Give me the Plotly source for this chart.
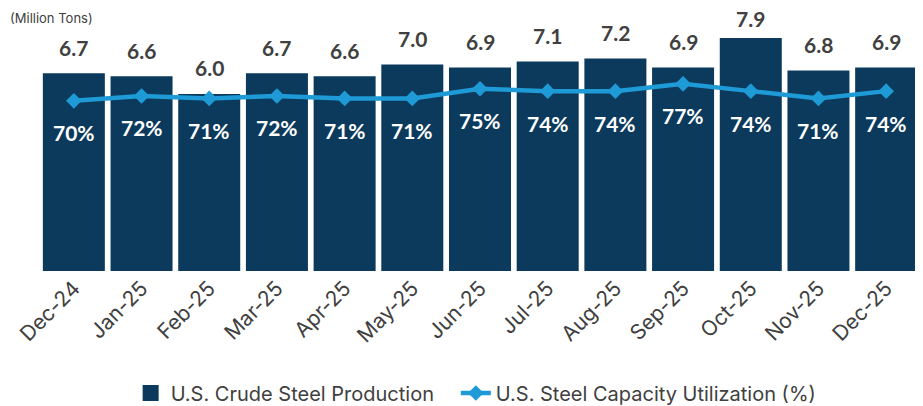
import plotly.graph_objects as go

months = ["Dec-24", "Jan-25", "Feb-25", "Mar-25", "Apr-25", "May-25", "Jun-25",
          "Jul-25", "Aug-25", "Sep-25", "Oct-25", "Nov-25", "Dec-25"]
production = [6.7, 6.6, 6.0, 6.7, 6.6, 7.0, 6.9, 7.1, 7.2, 6.9, 7.9, 6.8, 6.9]
utilization = [70, 72, 71, 72, 71, 71, 75, 74, 74, 77, 74, 71, 74]

BAR = "#0B3A5C"
LINE = "#1E9AD6"
GRAY = "#404040"

Y1_MAX = 8.915
PLOT_H = 263

fig = go.Figure()
fig.add_trace(go.Bar(x=months, y=production, name="U.S. Crude Steel Production",
                     marker=dict(color=BAR, line=dict(width=0)), yaxis="y",
                     showlegend=False))
# legend entry with a larger square swatch for the bars (trailing spaces widen the gap)
fig.add_trace(go.Scatter(x=[None], y=[None], mode="markers",
                         name="U.S. Crude Steel Production\u00a0\u00a0\u00a0",
                         marker=dict(symbol="square", size=20, color=BAR), yaxis="y"))
fig.add_trace(go.Scatter(x=months, y=utilization, name="U.S. Steel Capacity Utilization (%)",
                         mode="lines+markers", yaxis="y2",
                         line=dict(color=LINE, width=4.5),
                         marker=dict(symbol="diamond", size=12, color=LINE)))

annotations = []
for m, v in zip(months, production):
    top_px = PLOT_H - PLOT_H * v / Y1_MAX  # distance of bar top from figure top
    shift = min(26, top_px - 11)
    annotations.append(dict(x=m, y=v, xref="x", yref="y", text=f"{v:.1f}",
                            showarrow=False, yshift=shift,
                            font=dict(family="Lato", size=21, color=GRAY, weight="bold")))
for m, u in zip(months, utilization):
    annotations.append(dict(x=m, y=u, xref="x", yref="y2", text=f"{u}%",
                            showarrow=False, yshift=-32,
                            font=dict(family="Lato", size=21, color="white", weight="bold")))
annotations.append(dict(x=0, y=1.0, xref="paper", yref="paper", xanchor="left", yanchor="top",
                        xshift=-32, text="(Million Tons)", showarrow=False,
                        font=dict(family="Inter", size=13, color=GRAY)))

fig.update_layout(
    width=923, height=406,
    margin=dict(l=32, r=11, t=0, b=143, autoexpand=False),
    paper_bgcolor="white", plot_bgcolor="white",
    bargap=0.084,
    showlegend=True,
    legend=dict(orientation="h", x=0.103, xanchor="left", y=-0.464, yanchor="middle",
                font=dict(family="Inter", size=20, color=GRAY), itemwidth=30,
                traceorder="normal"),
    xaxis=dict(tickangle=-45, tickfont=dict(family="Inter", size=21, color=GRAY),
               range=[-0.5, len(months) - 0.5], autorange=False,
               showgrid=False, showline=False, ticks="", automargin=False),
    yaxis=dict(range=[0, Y1_MAX], visible=False, showgrid=False, automargin=False),
    yaxis2=dict(range=[0, 108.2], overlaying="y", side="right", visible=False, showgrid=False,
                automargin=False),
    annotations=annotations,
)

fig.write_html("out.html")
